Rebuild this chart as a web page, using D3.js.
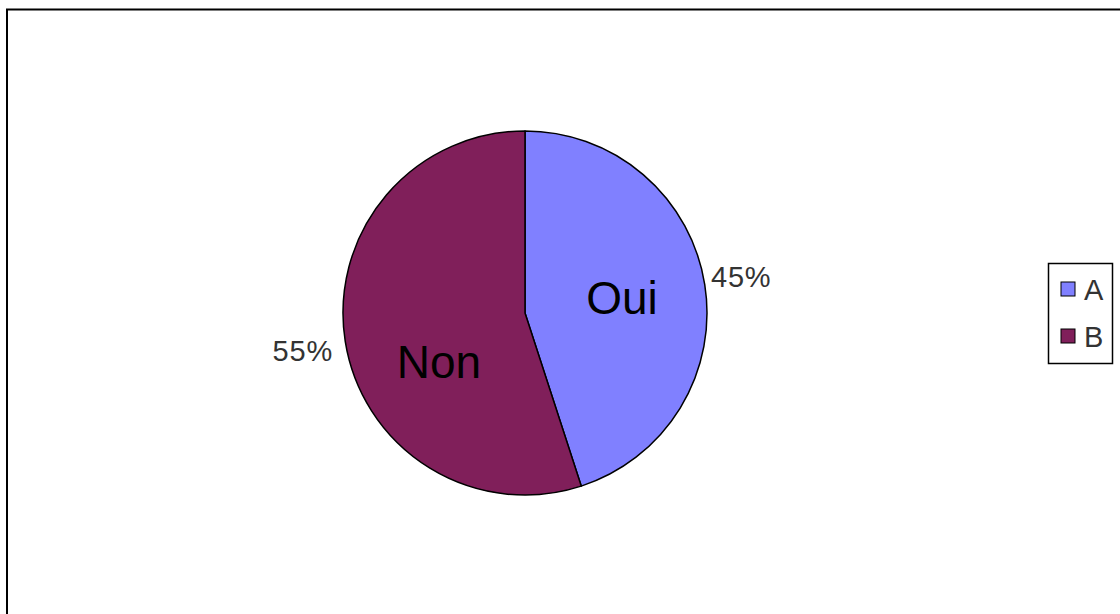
<!DOCTYPE html>
<html><head><meta charset="utf-8">
<script src="https://cdn.jsdelivr.net/npm/d3@7"></script>
<style>html,body{margin:0;padding:0;background:#fff;}svg{display:block;}</style>
</head><body>
<svg id="c" width="1120" height="614"></svg>
<script>
const categories = ["A", "B"];
const sliceLabels = ["Oui", "Non"];
const values = [45, 55];
const percentLabels = ["45%", "55%"];
const colors = ["#8080FF", "#801F5A"];

const svg = d3.select("#c");
// outer frame
svg.append("rect").attr("x", 7).attr("y", 9.5).attr("width", 1130).attr("height", 620)
  .attr("fill", "none").attr("stroke", "#000").attr("stroke-width", 2);

const cx = 525, cy = 313, r = 182;
const pie = d3.pie().sort(null).value(d => d);
const arcs = pie(values);
const arc = d3.arc().innerRadius(0).outerRadius(r);
const g = svg.append("g").attr("transform", `translate(${cx},${cy})`);
g.selectAll("path").data(arcs).join("path")
  .attr("d", arc).attr("fill", (d, i) => colors[i])
  .attr("stroke", "#000").attr("stroke-width", 1.5).attr("stroke-linejoin", "round");

// inside labels
const insidePos = [[97, -15], [-86, 49]];
g.selectAll("text.in").data(arcs).join("text").attr("class", "in")
  .attr("x", (d, i) => insidePos[i][0]).attr("y", (d, i) => insidePos[i][1])
  .attr("text-anchor", "middle").attr("dominant-baseline", "central")
  .attr("font-family", "Liberation Sans, Arial, sans-serif").attr("font-size", 46)
  .attr("fill", "#000").text((d, i) => sliceLabels[i]);

// percent labels outside
const outPos = [[186, -36, "start"], [-192, 38, "end"]];
g.selectAll("text.out").data(arcs).join("text").attr("class", "out")
  .attr("x", (d, i) => outPos[i][0]).attr("y", (d, i) => outPos[i][1])
  .attr("text-anchor", (d, i) => outPos[i][2]).attr("dominant-baseline", "central")
  .attr("font-family", "Liberation Sans, Arial, sans-serif").attr("font-size", 29)
  .attr("letter-spacing", 0.8)
  .attr("fill", "#333").text((d, i) => percentLabels[i]);

// legend
const lg = svg.append("g");
lg.append("rect").attr("x", 1048.5).attr("y", 263.5).attr("width", 64).attr("height", 100)
  .attr("fill", "#fff").attr("stroke", "#000").attr("stroke-width", 1.5);
const ly = d3.scalePoint().domain(categories).range([289, 336]);
categories.forEach((c, i) => {
  lg.append("rect").attr("x", 1061).attr("y", ly(c) - 7).attr("width", 14).attr("height", 14)
    .attr("fill", colors[i]).attr("stroke", "#000").attr("stroke-width", 1);
  lg.append("text").attr("x", 1084).attr("y", ly(c) + 1).attr("dominant-baseline", "central")
    .attr("font-family", "Liberation Sans, Arial, sans-serif").attr("font-size", 29)
    .attr("fill", "#333").text(c);
});
</script>
</body></html>
